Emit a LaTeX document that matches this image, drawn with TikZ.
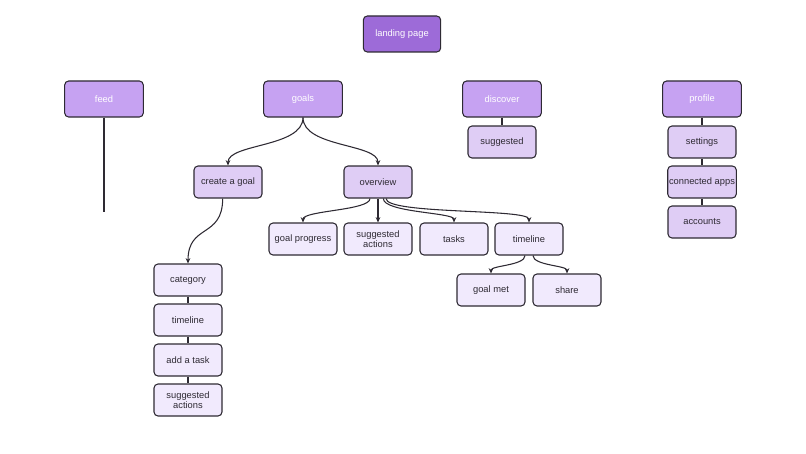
\documentclass[tikz,border=0pt]{standalone}
\usepackage{fontspec}
\setmainfont{Liberation Sans}
\usetikzlibrary{arrows.meta}
\definecolor{topc}{HTML}{9D6BD8}
\definecolor{lvla}{HTML}{C6A2F2}
\definecolor{lvlb}{HTML}{DFCDF5}
\definecolor{lvlc}{HTML}{F1EAFD}
\definecolor{edge}{HTML}{2E2A33}
\tikzset{
  box/.style={draw=edge, line width=0.8pt, rounded corners=3pt, minimum width=51pt, minimum height=24pt, inner sep=1pt, align=center, font=\fontsize{7}{8}\selectfont},
  root/.style={box, fill=topc, text=white, minimum width=58pt, minimum height=27pt},
  main/.style={box, fill=lvla, text=white, minimum width=59pt, minimum height=27pt},
  sub/.style={box, fill=lvlb, text=edge},
  leaf/.style={box, fill=lvlc, text=edge},
  link/.style={draw=edge, line width=0.8pt},
  arr/.style={link, -{Stealth[length=4pt,width=3.5pt]}}
}
\begin{document}
\begin{tikzpicture}[x=0.75pt,y=-0.75pt]
\useasboundingbox (0,0) rectangle (806,453);
% top
\node[root] (landing) at (402,34) {landing page};
\node[main] (feed) at (104,99) {feed};
\node[main] (goals) at (303,99) {goals};
\node[main] (discover) at (502,99) {discover};
\node[main] (profile) at (702,99) {profile};
% discover and profile
\node[sub] (suggested) at (502,142) {suggested};
\node[sub] (settings) at (702,142) {settings};
\node[sub] (apps) at (702,182) {connected apps};
\node[sub] (accounts) at (702,222) {accounts};
% goals
\node[sub] (create) at (228,182) {create a goal};
\node[sub] (overview) at (378,182) {overview};
\node[leaf] (progress) at (303,239) {goal progress};
\node[leaf] (actions) at (378,239) {suggested\\actions};
\node[leaf] (tasks) at (454,239) {tasks};
\node[leaf] (timeline) at (529,239) {timeline};
\node[leaf] (met) at (491,290) {goal met};
\node[leaf] (share) at (567,290) {share};
\node[leaf] (category) at (188,280) {category};
\node[leaf] (ctimeline) at (188,320) {timeline};
\node[leaf] (addtask) at (188,360) {add a task};
\node[leaf] (cactions) at (188,400) {suggested\\actions};
\coordinate (feedend) at (104,212);
% connectors
\draw[link] (feed.south) -- (feedend);
\draw[link] (discover) -- (suggested);
\draw[link] (profile) -- (settings) (settings) -- (apps) (apps) -- (accounts);
\draw[link] (category) -- (ctimeline) (ctimeline) -- (addtask) (addtask) -- (cactions);
\draw[arr] (goals.south) .. controls +(0,30) and +(0,-22) .. (create.north);
\draw[arr] (goals.south) .. controls +(0,30) and +(0,-22) .. (overview.north);
\draw[arr] ([xshift=-4pt]create.south) .. controls +(0,40) and +(0,-40) .. (category.north);
\draw[arr] ([xshift=-6pt]overview.south) .. controls +(0,12) and +(0,-12) .. (progress.north);
\draw[arr] (overview.south) -- (actions.north);
\draw[arr] ([xshift=4pt]overview.south) .. controls +(0,14) and +(0,-10) .. (tasks.north);
\draw[arr] ([xshift=6pt]overview.south) .. controls +(0,16) and +(0,-14) .. (timeline.north);
\draw[arr] ([xshift=-3pt]timeline.south) .. controls +(0,10) and +(0,-8) .. (met.north);
\draw[arr] ([xshift=3pt]timeline.south) .. controls +(0,10) and +(0,-8) .. (share.north);
\end{tikzpicture}
\end{document}
